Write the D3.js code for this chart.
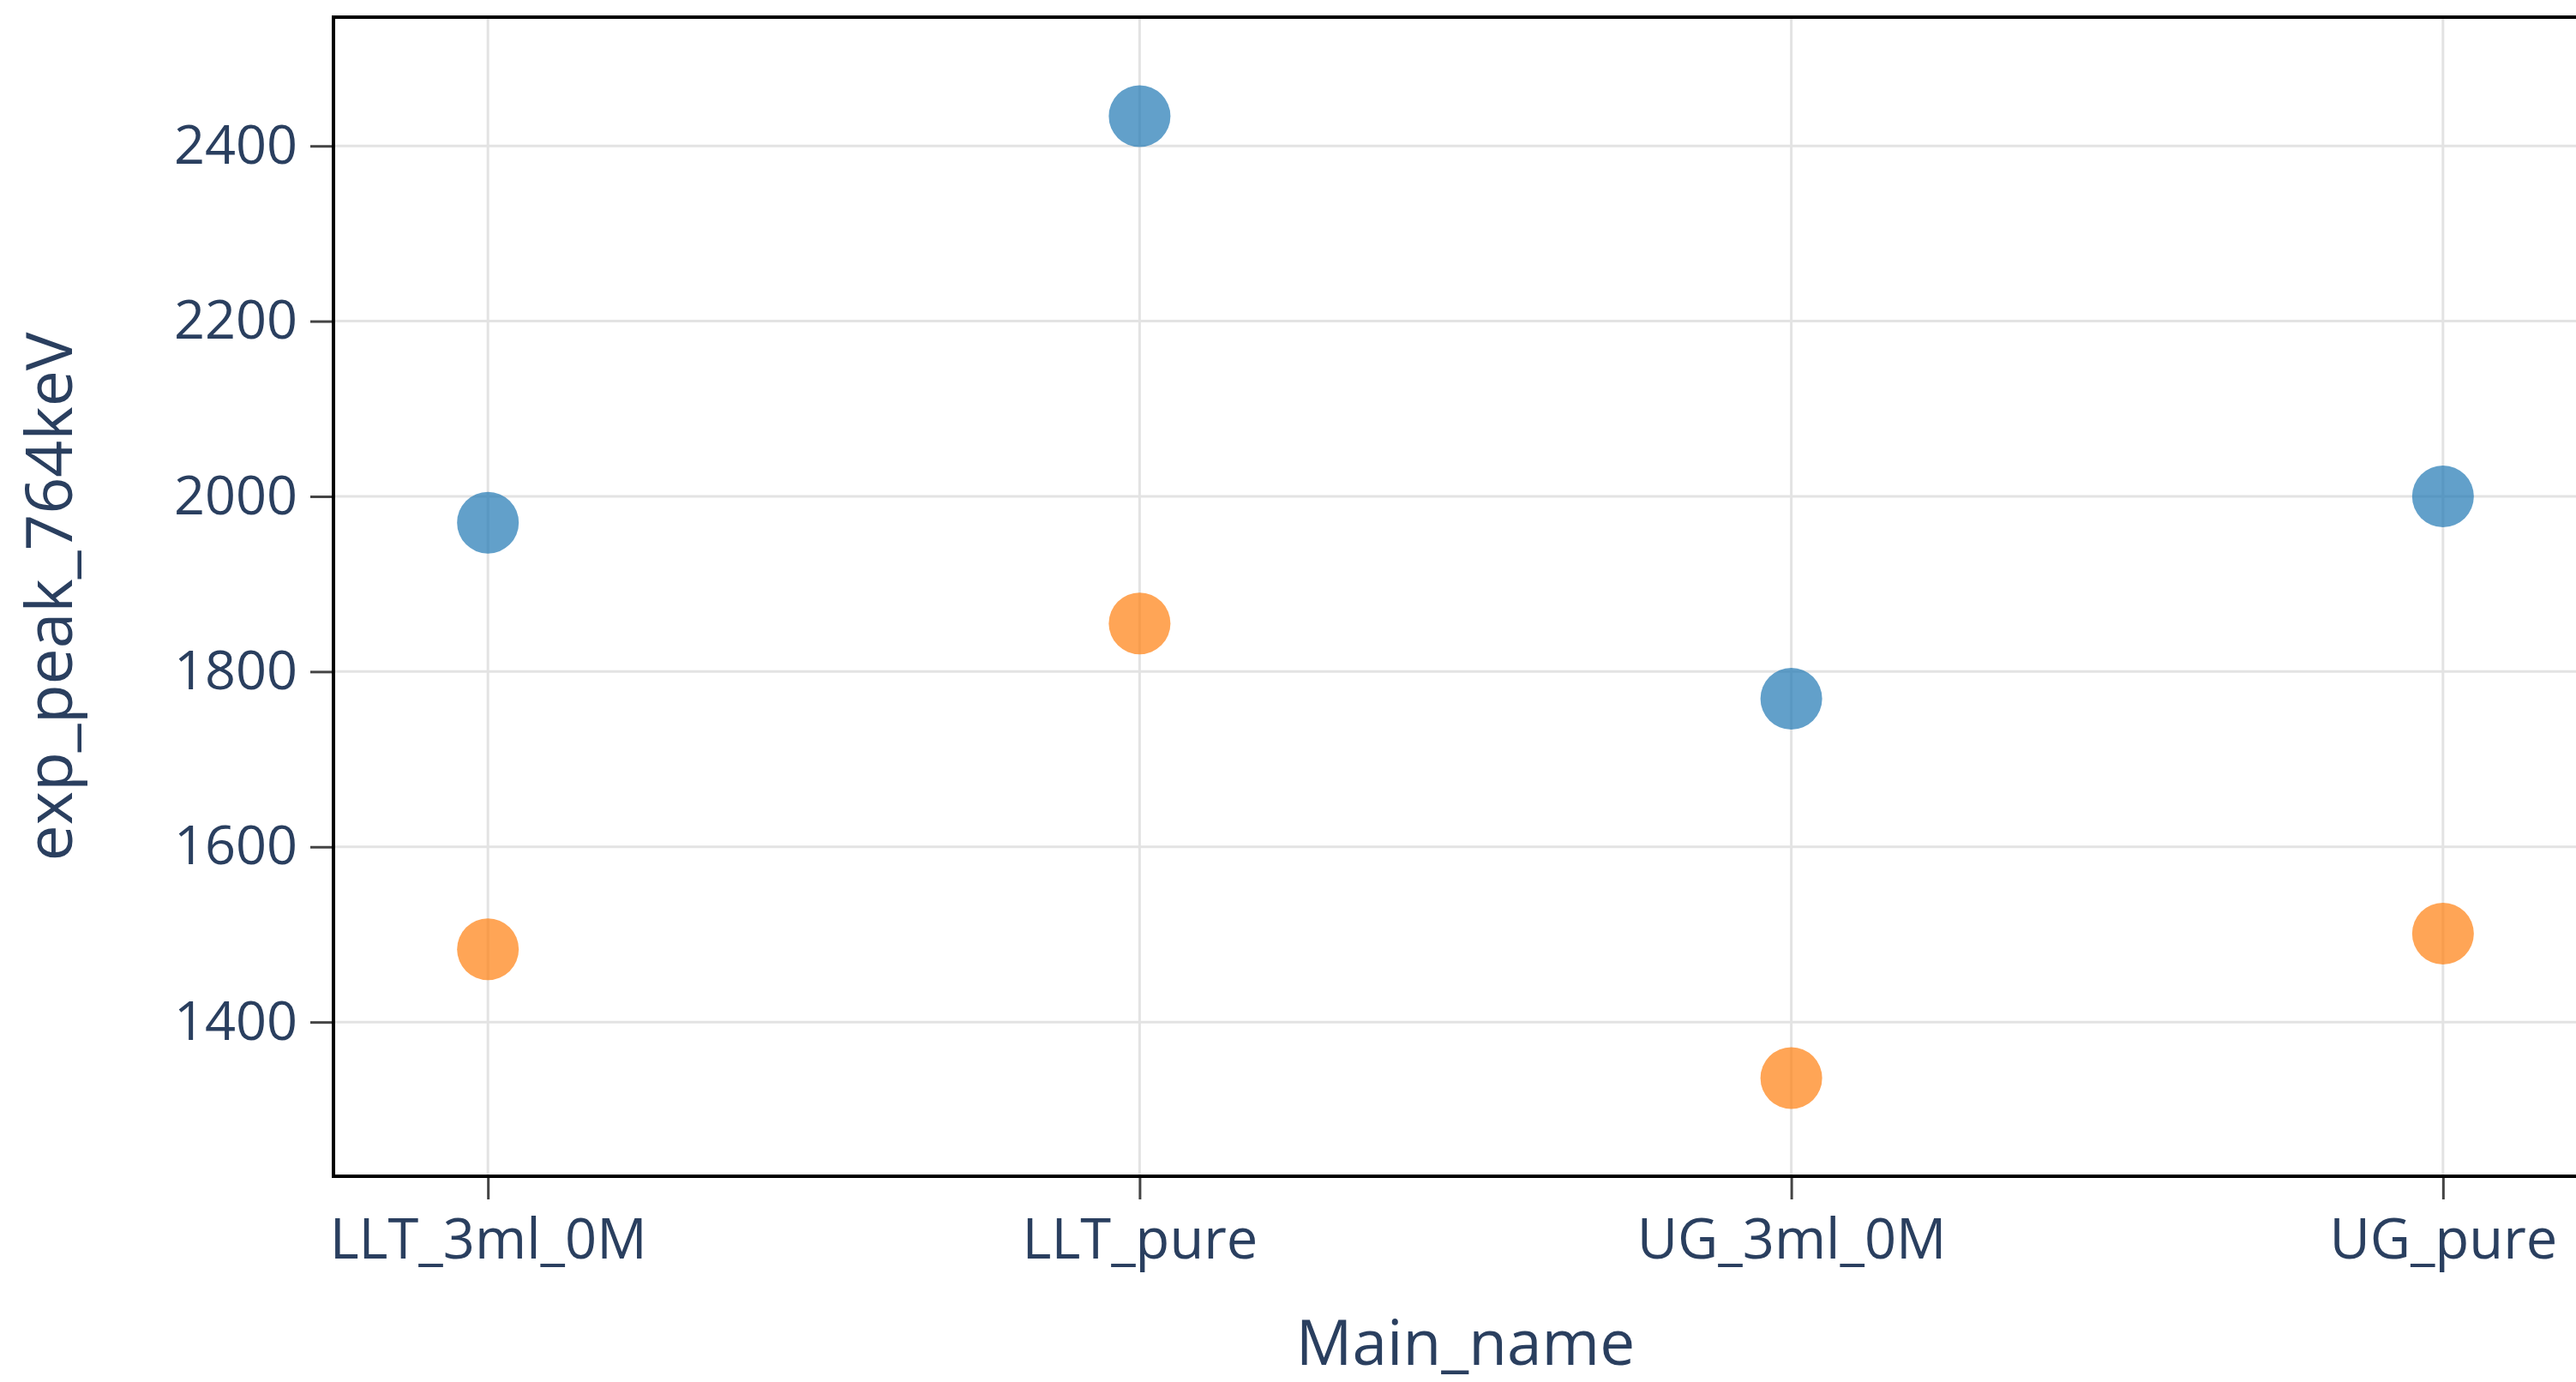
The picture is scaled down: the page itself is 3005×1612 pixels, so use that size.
<!DOCTYPE html>
<html>
<head>
<meta charset="utf-8">
<script src="https://cdn.jsdelivr.net/npm/d3@7"></script>
<style>
  body { margin: 0; background: #fff; }
  svg { display: block; }
</style>
</head>
<body>
<div id="chart"></div>
<script>
// data
const categories = ["LLT_3ml_0M", "LLT_pure", "UG_3ml_0M", "UG_pure"];
const seriesBlue = [1970, 2434, 1769, 2000];
const seriesOrange = [1483, 1855, 1336, 1501];
const yTicks = [1400, 1600, 1800, 2000, 2200, 2400];

const WIDTH = 3005, HEIGHT = 1612;
// plot area (right edge sits past the canvas, like the reference)
const plot = {left: 389, top: 20, right: 3030, bottom: 1372};

const textColor = "#2a3f5f";
const fontFamily = "'Open Sans', verdana, arial, sans-serif";

let svg = d3.select("#chart")
    .append("svg")
    .attr("width", WIDTH)
    .attr("height", HEIGHT);

let x = d3.scalePoint()
    .domain(categories)
    .range([plot.left, plot.right])
    .padding(0.237);

let y = d3.scaleLinear()
    .domain([1224, 2547])
    .range([plot.bottom, plot.top]);

// gridlines
let grid = svg.append("g");
grid.selectAll("line.h").data(yTicks).enter()
    .append("line")
    .attr("x1", plot.left).attr("x2", plot.right)
    .attr("y1", d => y(d)).attr("y2", d => y(d))
    .attr("stroke", "#e3e3e3")
    .attr("stroke-width", 3);
grid.selectAll("line.v").data(categories).enter()
    .append("line")
    .attr("x1", d => x(d)).attr("x2", d => x(d))
    .attr("y1", plot.top).attr("y2", plot.bottom)
    .attr("stroke", "#e3e3e3")
    .attr("stroke-width", 3);

// markers
function drawSeries(values, color) {
    svg.append("g").selectAll("circle")
        .data(values).enter()
        .append("circle")
        .attr("cx", (d, i) => x(categories[i]))
        .attr("cy", d => y(d))
        .attr("r", 36)
        .attr("fill", color)
        .attr("fill-opacity", 0.7);
}
drawSeries(seriesBlue, "#1f77b4");
drawSeries(seriesOrange, "#ff7f0e");

// axes
let yAxis = svg.append("g")
    .attr("transform", `translate(${plot.left},0)`)
    .call(d3.axisLeft(y).tickValues(yTicks).tickSize(27).tickPadding(15).tickFormat(d3.format("d")));

let xAxis = svg.append("g")
    .attr("transform", `translate(0,${plot.bottom})`)
    .call(d3.axisBottom(x).tickSize(27).tickPadding(23));

[yAxis, xAxis].forEach(function(a) {
    a.select(".domain").remove();
    a.selectAll(".tick line").attr("stroke", "#444").attr("stroke-width", 3);
    a.selectAll(".tick text")
        .attr("fill", textColor)
        .style("font-family", fontFamily);
});
yAxis.selectAll(".tick text").style("font-size", "63px");
xAxis.selectAll(".tick text").style("font-size", "65px");

// frame
svg.append("rect")
    .attr("x", plot.left)
    .attr("y", plot.top)
    .attr("width", plot.right - plot.left)
    .attr("height", plot.bottom - plot.top)
    .attr("fill", "none")
    .attr("stroke", "#000")
    .attr("stroke-width", 4);

// axis titles
svg.append("text")
    .attr("transform", `translate(${(plot.left + plot.right) / 2}, 1592)`)
    .style("text-anchor", "middle")
    .style("font-family", fontFamily)
    .style("font-size", "73px")
    .attr("fill", textColor)
    .text("Main_name");

svg.append("text")
    .attr("transform", `translate(84, ${(plot.top + plot.bottom) / 2}) rotate(-90)`)
    .style("text-anchor", "middle")
    .style("font-family", fontFamily)
    .style("font-size", "75px")
    .attr("fill", textColor)
    .text("exp_peak_764keV");
</script>
</body>
</html>
